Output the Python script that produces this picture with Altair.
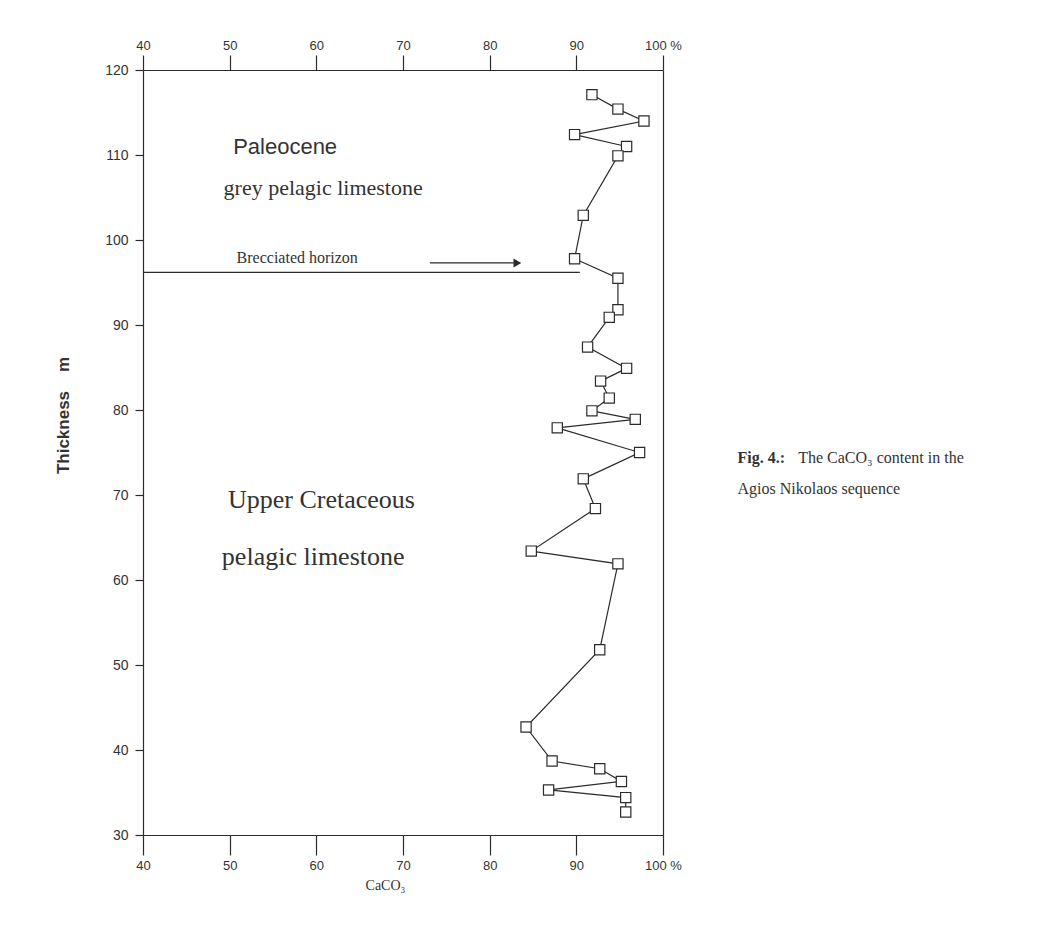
import altair as alt
import pandas as pd

# CaCO3 content (%) vs thickness (m), top to bottom
caco3 = [91.8, 94.8, 97.8, 89.8, 95.8, 94.8, 90.8, 89.8, 94.8, 94.8, 93.8,
         91.3, 95.8, 92.8, 93.8, 91.8, 96.8, 87.8, 97.3, 90.8, 92.2, 84.8,
         94.8, 92.7, 84.2, 87.2, 92.7, 95.2, 86.8, 95.7, 95.7]
thickness = [117.1, 115.4, 114.0, 112.4, 111.0, 109.9, 102.9, 97.8, 95.5,
             91.8, 90.9, 87.4, 84.9, 83.4, 81.4, 79.9, 78.9, 77.9, 75.0, 71.9,
             68.4, 63.4, 61.9, 51.8, 42.7, 38.7, 37.8, 36.3, 35.3, 34.4, 32.7]
x_ticks = [40, 50, 60, 70, 80, 90, 100]
y_ticks = [30, 40, 50, 60, 70, 80, 90, 100, 110, 120]

breccia_level = 96.2
breccia_x = [40, 90.4]

df = pd.DataFrame({"caco3": caco3, "thickness": thickness,
                   "idx": list(range(len(caco3)))})

INK = "#2b2b2b"
SANS = "Liberation Sans"
SERIF = "Liberation Serif"
NB = "\u00a0"

xscale = alt.Scale(domain=[40, 100], nice=False, zero=False)
yscale = alt.Scale(domain=[30, 120], nice=False, zero=False)

bottom_axis = alt.Axis(
    orient="bottom", values=x_ticks, grid=False, tickSize=20, tickColor=INK,
    domainColor=INK, domainWidth=1.2, tickWidth=1.2,
    labelFont=SANS, labelFontSize=13, labelColor="#333",
    labelPadding=4, labelFlush=False,
    labelExpr="datum.value == 100 ? '100 %' : datum.label",
    title="CaCO₃", titleFont=SERIF, titleFontSize=14, titleFontWeight="normal",
    titleColor="#333", titleX=242, titleY=50, titleBaseline="middle",
)
top_axis = alt.Axis(
    orient="top", values=x_ticks, grid=False, tickSize=15, tickColor=INK,
    domainColor=INK, domainWidth=1.2, tickWidth=1.2,
    labelFont=SANS, labelFontSize=13, labelColor="#333",
    labelPadding=3, labelFlush=False,
    labelExpr="datum.value == 100 ? '100 %' : datum.label", title=None,
)
left_axis = alt.Axis(
    orient="left", values=y_ticks, grid=False, tickSize=8, tickColor=INK,
    domainColor=INK, domainWidth=1.2, tickWidth=1.2,
    labelFont=SANS, labelFontSize=14, labelColor="#333",
    labelPadding=7, labelFlush=False,
    title="Thickness" + NB * 4 + "m", titleFont=SANS, titleFontSize=17,
    titleFontWeight="bold", titleColor="#333", titleX=-80, titleY=345,
    titleBaseline="middle", titleAngle=270,
)
right_axis = alt.Axis(
    orient="right", values=y_ticks, grid=False, ticks=False, labels=False,
    domainColor=INK, domainWidth=1.2, title=None,
)

X = lambda ax=None: alt.X("caco3:Q", scale=xscale, axis=ax)
Y = lambda ax=None: alt.Y("thickness:Q", scale=yscale, axis=ax)

line = alt.Chart(df).mark_line(color=INK, strokeWidth=1.2).encode(
    x=X(bottom_axis), y=Y(left_axis), order="idx:Q")

frame = alt.Chart(df).mark_point(opacity=0).encode(x=X(top_axis),
                                                   y=Y(right_axis))

squares = alt.Chart(df).mark_square(
    size=105, fill="white", stroke=INK, strokeWidth=1.2, opacity=1
).encode(x=X(), y=Y())

breccia_df = pd.DataFrame({"x": [breccia_x[0]], "x2": [breccia_x[1]],
                           "y": [breccia_level]})
breccia = alt.Chart(breccia_df).mark_rule(color=INK, strokeWidth=1.2).encode(
    x=alt.X("x:Q", scale=xscale, axis=None), x2="x2:Q",
    y=alt.Y("y:Q", scale=yscale, axis=None))

arrow_df = pd.DataFrame({"x": [73.1], "x2": [83.2], "y": [97.3]})
arrow_line = alt.Chart(arrow_df).mark_rule(color=INK, strokeWidth=1.3).encode(
    x=alt.X("x:Q", scale=xscale, axis=None), x2="x2:Q",
    y=alt.Y("y:Q", scale=yscale, axis=None))
arrow_head = alt.Chart(arrow_df).mark_point(
    shape="triangle-right", filled=True, color=INK, size=80, opacity=1
).encode(x=alt.X("x2:Q", scale=xscale, axis=None),
         y=alt.Y("y:Q", scale=yscale, axis=None))


def label(text, x, y, font, size, weight="normal"):
    d = pd.DataFrame({"t": [text], "x": [x], "y": [y]})
    return alt.Chart(d).mark_text(
        align="left", baseline="middle", font=font, fontSize=size,
        fontWeight=weight, color="#333"
    ).encode(x=alt.X("x:Q", scale=xscale, axis=None),
             y=alt.Y("y:Q", scale=yscale, axis=None), text="t:N")


texts = [
    label("Paleocene", 50.4, 110.9, SANS, 22),
    label("grey pelagic limestone", 49.3, 106.1, SERIF, 22),
    label("Brecciated horizon", 50.8, 97.9, SERIF, 16),
    label("Upper Cretaceous", 49.8, 69.4, SERIF, 26),
    label("pelagic limestone", 49.1, 62.7, SERIF, 26),
    label("Fig. 4.:", 108.6, 74.3, SERIF, 16, "bold"),
    label("The CaCO₃ content in the", 115.6, 74.3, SERIF, 16),
    label("Agios Nikolaos sequence", 108.6, 70.7, SERIF, 16),
]

chart = alt.layer(
    line, frame, breccia, arrow_line, arrow_head, squares, *texts
).resolve_axis(x="independent", y="independent").properties(
    width=520, height=765,
    autosize=alt.AutoSizeParams(type="none"),
    padding={"left": 135, "top": 62, "right": 390, "bottom": 80},
).configure_view(stroke=None).configure(background="white")

chart.save("out.html", embed_options={"renderer": "svg", "actions": False})
